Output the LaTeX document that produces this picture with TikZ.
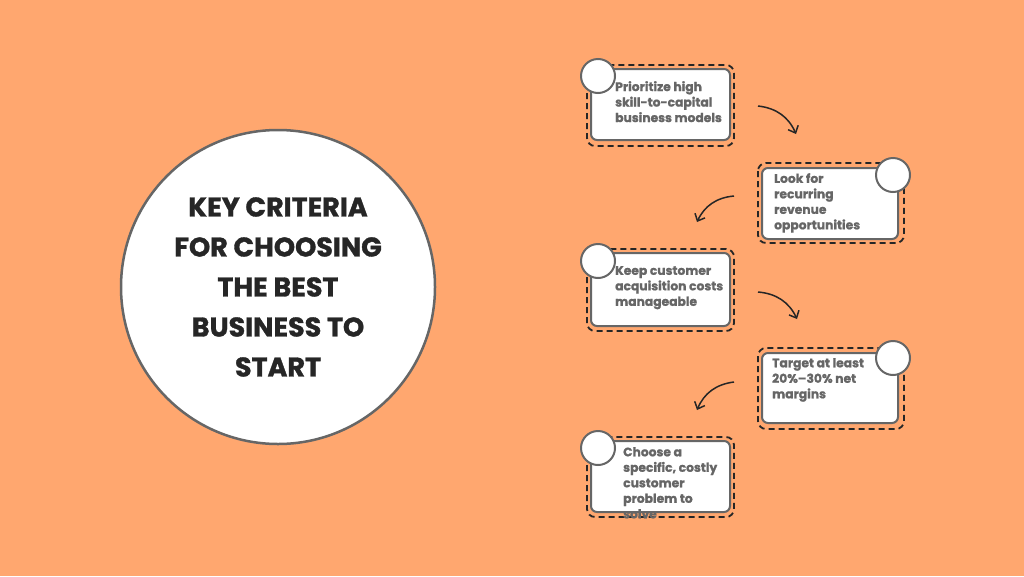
\documentclass[tikz,border=0pt]{standalone}
\usepackage{fontspec}
\setmainfont{Poppins}[BoldFont={* Bold},BoldFeatures={FakeBold=1.2}]
\usetikzlibrary{arrows.meta}
\definecolor{bg}{HTML}{FFA76F}
\definecolor{txt}{HTML}{666666}
\definecolor{edge}{HTML}{666666}
\begin{document}
\begin{tikzpicture}[x=1pt,y=-1pt,
  dashbox/.style={draw=black!85,line width=1.8pt,dash pattern=on 6pt off 4pt,rounded corners=8pt},
  card/.style={draw=edge,fill=white,line width=2pt,rounded corners=6pt},
  dot/.style={circle,draw=edge,fill=white,line width=2pt,minimum size=34pt,inner sep=0pt},
  lbl/.style={anchor=north west,align=left,text=txt,font=\bfseries\fontsize{12.3}{15.5}\selectfont,inner sep=0pt},
  arr/.style={-{Straight Barb[length=6pt,width=11pt]},line width=1.5pt,black!85}]
\fill[bg] (0,0) rectangle (1024,576);
\useasboundingbox (0,0) rectangle (1024,576);
\node[circle,draw=edge,fill=white,line width=2.5pt,minimum size=314pt,inner sep=0pt,
  font=\bfseries\fontsize{27}{40}\selectfont,align=center,text=black!85] (main) at (278,287)
  {KEY CRITERIA\\FOR CHOOSING\\THE BEST\\BUSINESS TO\\START};
% box1
\draw[dashbox] (587,65) rectangle (734,146);
\draw[card] (591,69) rectangle (730,140);
\node[dot] (c1) at (598,76) {};
\node[lbl] (t1) at (615,81) {Prioritize high\\skill-to-capital\\business models};
% box2
\draw[dashbox] (758,163) rectangle (904,243);
\draw[card] (762,168) rectangle (898,239);
\node[dot] (c2) at (893,175) {};
\node[lbl] (t2) at (774,173) {Look for\\recurring\\revenue\\opportunities};
% box3
\draw[dashbox] (587,249) rectangle (734,331);
\draw[card] (591,253) rectangle (730,326);
\node[dot] (c3) at (598,261) {};
\node[lbl] (t3) at (615,266) {Keep customer\\acquisition costs\\manageable};
% box4
\draw[dashbox] (758,348) rectangle (904,429);
\draw[card] (762,353) rectangle (898,423);
\node[dot] (c4) at (893,358) {};
\node[lbl] (t4) at (772,358) {Target at least\\20\%–30\% net\\margins};
% box5
\draw[dashbox] (587,437) rectangle (734,517);
\draw[card] (591,441) rectangle (730,512);
\node[dot] (c5) at (598,448) {};
\node[lbl] (t5) at (623,447) {Choose a\\specific, costly\\customer\\problem to\\solve};
% arrows
\coordinate (a1) at (758,106); \coordinate (b1) at (796,134);
\coordinate (a2) at (734,196); \coordinate (b2) at (697,222);
\coordinate (a3) at (758,292); \coordinate (b3) at (797,319);
\coordinate (a4) at (734,382); \coordinate (b4) at (697,410);
\draw[arr] (a1) to[bend left=30] (b1);
\draw[arr] (a2) to[bend right=30] (b2);
\draw[arr] (a3) to[bend left=30] (b3);
\draw[arr] (a4) to[bend right=30] (b4);
\end{tikzpicture}
\end{document}
